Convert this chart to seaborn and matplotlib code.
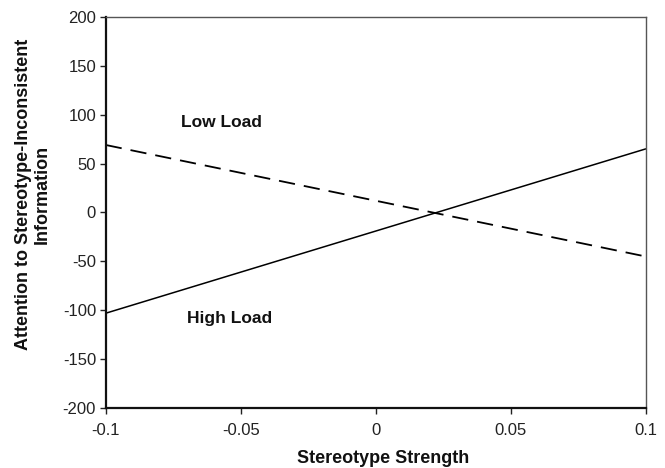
import matplotlib
matplotlib.use("Agg")
import matplotlib.pyplot as plt
import seaborn as sns
import pandas as pd

sns.set_theme(style="white")
plt.rcParams['font.family'] = ['Liberation Sans', 'DejaVu Sans']
plt.rcParams['axes.unicode_minus'] = False

x_vals = [-0.1, 0.1]
low_load = [69, -45]
high_load = [-103, 65]
x_ticks = [-0.1, -0.05, 0, 0.05, 0.1]
x_tick_labels = ["-0.1", "-0.05", "0", "0.05", "0.1"]
y_ticks = [-200, -150, -100, -50, 0, 50, 100, 150, 200]

df = pd.DataFrame({"x": x_vals * 2,
                   "y": low_load + high_load,
                   "load": ["Low Load"] * 2 + ["High Load"] * 2})

fig = plt.figure(figsize=(6.65, 4.68), dpi=100)
ax = fig.add_axes([0.159, 0.128, 0.812, 0.836])

sns.lineplot(data=df[df.load == "Low Load"], x="x", y="y", ax=ax,
             color="black", linewidth=1.3, legend=False)
ax.lines[-1].set_dashes([9, 5])
sns.lineplot(data=df[df.load == "High Load"], x="x", y="y", ax=ax,
             color="black", linewidth=1.1, legend=False)

ax.set_xlim(-0.1, 0.1)
ax.set_ylim(-200, 200)
ax.set_xticks(x_ticks)
ax.set_xticklabels(x_tick_labels)
ax.set_yticks(y_ticks)
ax.set_yticklabels([str(v) for v in y_ticks])
ax.tick_params(axis="both", labelsize=12, colors="#222222", direction="out",
               length=4, width=1, bottom=True, left=True)
ax.tick_params(axis="x", pad=7)
ax.tick_params(axis="y", pad=3)

for side in ["left", "bottom"]:
    ax.spines[side].set_color("#111111")
    ax.spines[side].set_linewidth(1.6)
for side in ["top", "right"]:
    ax.spines[side].set_color("#555555")
    ax.spines[side].set_linewidth(1.0)

ax.set_xlabel("Stereotype Strength", fontsize=13, fontweight="bold",
              color="#111111")
ax.set_ylabel("Attention to Stereotype-Inconsistent\nInformation", fontsize=13,
              fontweight="bold", color="#111111")
ax.xaxis.set_label_coords(0.514, -0.107)
ax.yaxis.label.set_verticalalignment("center")
ax.yaxis.set_label_coords(-0.135, 0.545)

ax.text(-0.057, 92, "Low Load", fontsize=12.5, fontweight="bold",
        color="#111111", ha="center", va="center")
ax.text(-0.054, -108, "High Load", fontsize=12.5, fontweight="bold",
        color="#111111", ha="center", va="center")

fig.savefig("out.png", dpi=100)
